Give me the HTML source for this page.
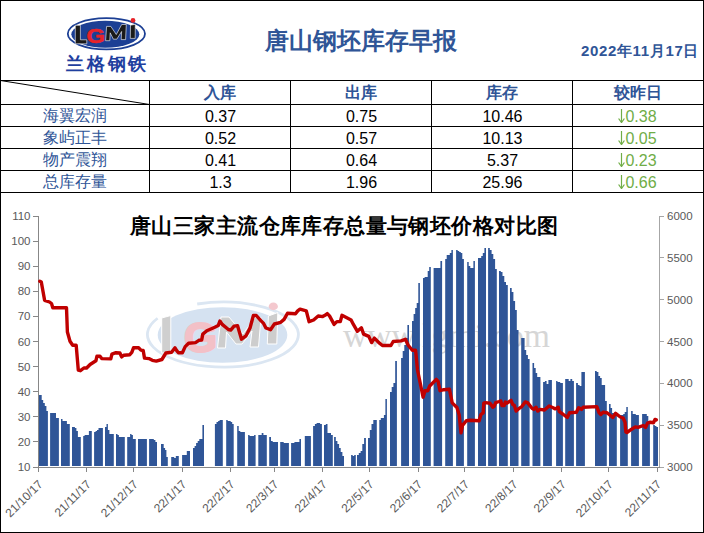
<!DOCTYPE html>
<html><head><meta charset="utf-8">
<style>
html,body{margin:0;padding:0;background:#fff;}
body{width:704px;height:533px;overflow:hidden;position:relative;font-family:"Liberation Sans",sans-serif;}
.t{position:absolute;white-space:nowrap;line-height:1;}
.c{text-align:center;}
.blue{color:#2F5597;}
.hd{font-size:16px;font-weight:bold;color:#2F5597;}
.nm{font-size:16px;color:#2F5597;}
.num{font-size:16px;color:#000;}
.grn{font-size:16px;color:#70AD47;}
.arr{display:inline-block;width:7px;height:14px;vertical-align:-1px;margin-right:0px;}
</style></head><body>
<svg width="704" height="533" style="position:absolute;left:0;top:0">
  <!-- outer border -->
  <rect x="0.5" y="0.5" width="703" height="532" fill="none" stroke="#000" stroke-width="1"/>
  <!-- table lines -->
  <g stroke="#000" stroke-width="1" shape-rendering="crispEdges">
    <line x1="0" y1="80.5" x2="704" y2="80.5"/>
    <line x1="0" y1="104.5" x2="704" y2="104.5"/>
    <line x1="0" y1="126.5" x2="704" y2="126.5"/>
    <line x1="0" y1="148.5" x2="704" y2="148.5"/>
    <line x1="0" y1="170.5" x2="704" y2="170.5"/>
    <line x1="0" y1="192.5" x2="704" y2="192.5"/>
    <line x1="149.5" y1="80" x2="149.5" y2="193"/>
    <line x1="290.5" y1="80" x2="290.5" y2="193"/>
    <line x1="431.5" y1="80" x2="431.5" y2="193"/>
    <line x1="572.5" y1="80" x2="572.5" y2="193"/>
  </g>
  <line x1="0.5" y1="80.5" x2="149.5" y2="104.5" stroke="#000" stroke-width="1"/>
  <!-- logo -->
  <g id="logo">
    <ellipse cx="106.4" cy="33.8" rx="38.6" ry="15.6" fill="none" stroke="#1c3f94" stroke-width="1.8"/>
    <ellipse cx="105.3" cy="34.3" rx="34" ry="13.5" fill="#1c3f94"/>
    <path d="M75.3,25.3 L80.4,25.3 L80.4,39.8 L86.8,39.8 L86.8,43.8 L75.3,43.8 Z" fill="#1a1a1a" stroke="#fff" stroke-width="0.6"/>
    <text x="86.5" y="42.6" font-family="Liberation Sans" font-weight="bold" font-size="20" fill="#e8232a" stroke="#e8232a" stroke-width="0.6" textLength="18.5" lengthAdjust="spacingAndGlyphs">G</text>
    <path d="M105.6,40.7 L106.6,26.4 L110.8,26.4 L116.3,34.5 L121.7,24.5 L126.3,24.5 L125.6,39.6 L121.2,39.6 L121.6,31.5 L116.8,39.2 L113.4,39.2 L110.2,32.8 L109.8,40.7 Z" fill="#1a1a1a" stroke="#fff" stroke-width="0.6"/>
    <path d="M130.5,25.2 L135.3,24.3 L135.2,38.4 L130.3,38.4 Z" fill="#1a1a1a" stroke="#fff" stroke-width="0.6"/>
    <circle cx="133" cy="20.4" r="2.4" fill="#e8232a"/>
  </g>
</svg>
<div class="t" style="left:66px;top:55px;width:84px;font-size:18px;font-weight:bold;color:#1f3f9f;letter-spacing:2.8px;">兰格钢铁</div>
<div class="t" style="left:265px;top:29px;font-size:24px;font-weight:bold;color:#2F5597">唐山钢坯库存早报</div>
<div class="t" style="left:581px;top:43px;font-size:15px;font-weight:bold;color:#2F5597;letter-spacing:0.65px">2022年11月17日</div>

<div class="t c hd" style="left:149px;width:141px;top:85px">入库</div>
<div class="t c hd" style="left:290px;width:141px;top:85px">出库</div>
<div class="t c hd" style="left:431px;width:141px;top:85px">库存</div>
<div class="t c hd" style="left:572px;width:131px;top:85px">较昨日</div>

<div class="t c nm" style="left:0;width:149px;top:108px">海翼宏润</div>
<div class="t c nm" style="left:0;width:149px;top:130px">象屿正丰</div>
<div class="t c nm" style="left:0;width:149px;top:152px">物产震翔</div>
<div class="t c nm" style="left:0;width:149px;top:174px">总库存量</div>

<div class="t c num" style="left:150px;width:141px;top:109px">0.37</div>
<div class="t c num" style="left:150px;width:141px;top:131px">0.52</div>
<div class="t c num" style="left:150px;width:141px;top:153px">0.41</div>
<div class="t c num" style="left:150px;width:141px;top:175px">1.3</div>

<div class="t c num" style="left:291px;width:141px;top:109px">0.75</div>
<div class="t c num" style="left:291px;width:141px;top:131px">0.57</div>
<div class="t c num" style="left:291px;width:141px;top:153px">0.64</div>
<div class="t c num" style="left:291px;width:141px;top:175px">1.96</div>

<div class="t c num" style="left:432px;width:141px;top:109px">10.46</div>
<div class="t c num" style="left:432px;width:141px;top:131px">10.13</div>
<div class="t c num" style="left:432px;width:141px;top:153px">5.37</div>
<div class="t c num" style="left:432px;width:141px;top:175px">25.96</div>

<div class="t c grn" style="left:572px;width:131px;top:109px" ><svg class="arr" viewBox="0 0 7 14"><path d="M3.5,0 L3.5,13" stroke="#70AD47" stroke-width="1.2"/><path d="M0.6,9.5 L3.5,13.6 L6.4,9.5" fill="none" stroke="#70AD47" stroke-width="1.2"/></svg>0.38</div>
<div class="t c grn" style="left:572px;width:131px;top:131px" ><svg class="arr" viewBox="0 0 7 14"><path d="M3.5,0 L3.5,13" stroke="#70AD47" stroke-width="1.2"/><path d="M0.6,9.5 L3.5,13.6 L6.4,9.5" fill="none" stroke="#70AD47" stroke-width="1.2"/></svg>0.05</div>
<div class="t c grn" style="left:572px;width:131px;top:153px" ><svg class="arr" viewBox="0 0 7 14"><path d="M3.5,0 L3.5,13" stroke="#70AD47" stroke-width="1.2"/><path d="M0.6,9.5 L3.5,13.6 L6.4,9.5" fill="none" stroke="#70AD47" stroke-width="1.2"/></svg>0.23</div>
<div class="t c grn" style="left:572px;width:131px;top:175px" ><svg class="arr" viewBox="0 0 7 14"><path d="M3.5,0 L3.5,13" stroke="#70AD47" stroke-width="1.2"/><path d="M0.6,9.5 L3.5,13.6 L6.4,9.5" fill="none" stroke="#70AD47" stroke-width="1.2"/></svg>0.66</div>

<!--CHART-->
<svg width="704" height="533" style="position:absolute;left:0;top:0">
<g id="wm">
<path d="M197.2,304 A75.5,32.5 0 1 1 157.6,318.25" fill="none" stroke="#dbe6f2" stroke-width="2.8"/>
<ellipse cx="222.5" cy="335" rx="64.8" ry="27.8" fill="#d5e2f1"/>
<g stroke="#fff" stroke-width="1" stroke-linejoin="round">
<path d="M161.7,318 L170.8,315.5 L170.8,353 L161.7,353 Z" fill="#cfcfcf"/>
<text x="184" y="351.9" font-family="Liberation Sans" font-weight="bold" font-size="42.5" fill="#f3c0c7" stroke="#f3c0c7" stroke-width="2.2" textLength="33" lengthAdjust="spacingAndGlyphs">G</text>
<path d="M217.5,348 L221,317 L229,317 L243,334 L255,317.5 L261,317.5 L258.5,347 L250,347 L252,331 L242,344 L236,344 L226.5,332 L225.5,348 Z" fill="#cdcdcd"/>
<path d="M268.4,316 L277.8,312.5 L276.8,344 L267.3,344 Z" fill="#cdcdcd"/>
</g>
<ellipse cx="273.3" cy="306.4" rx="4.6" ry="3.8" fill="#f4c8ce"/>
</g>
<text x="343" y="346.5" font-family="Liberation Serif" font-size="34" fill="#d6d6d6" textLength="207" lengthAdjust="spacingAndGlyphs">www.lgmi.com</text>
<path d="M38.6,466.0 L38.6,395.0 L40.1,395.0 L40.1,395.0 L41.7,395.0 L41.7,400.0 L43.2,400.0 L43.2,403.0 L44.8,403.0 L44.8,406.0 L46.4,406.0 L46.4,411.0 L47.9,411.0 L47.9,466.0ZM50.1,466.0 L50.1,413.0 L51.6,413.0 L51.6,413.0 L53.0,413.0 L53.0,413.0 L54.5,413.0 L54.5,413.0 L56.0,413.0 L56.0,418.0 L57.4,418.0 L57.4,418.0 L58.9,418.0 L58.9,466.0ZM61.0,466.0 L61.0,419.0 L62.5,419.0 L62.5,421.0 L63.9,421.0 L63.9,421.0 L65.4,421.0 L65.4,421.0 L66.9,421.0 L66.9,424.0 L68.3,424.0 L68.3,424.0 L69.8,424.0 L69.8,466.0ZM72.0,466.0 L72.0,427.0 L73.5,427.0 L73.5,427.0 L74.9,427.0 L74.9,428.0 L76.4,428.0 L76.4,431.0 L77.9,431.0 L77.9,437.0 L79.3,437.0 L79.3,437.0 L80.8,437.0 L80.8,466.0ZM83.2,466.0 L83.2,436.0 L84.6,436.0 L84.6,435.0 L86.1,435.0 L86.1,435.0 L87.5,435.0 L87.5,435.0 L88.9,435.0 L88.9,431.0 L90.4,431.0 L90.4,431.0 L91.8,431.0 L91.8,466.0ZM94.1,466.0 L94.1,432.0 L95.6,432.0 L95.6,431.0 L97.0,431.0 L97.0,430.0 L98.5,430.0 L98.5,428.0 L100.0,428.0 L100.0,428.0 L101.4,428.0 L101.4,428.0 L102.9,428.0 L102.9,466.0ZM105.0,466.0 L105.0,427.0 L106.5,427.0 L106.5,424.0 L107.9,424.0 L107.9,430.0 L109.4,430.0 L109.4,434.0 L110.9,434.0 L110.9,434.0 L112.3,434.0 L112.3,434.0 L113.8,434.0 L113.8,466.0ZM116.0,466.0 L116.0,434.0 L117.5,434.0 L117.5,435.0 L118.9,435.0 L118.9,437.0 L120.4,437.0 L120.4,437.0 L121.9,437.0 L121.9,437.0 L123.3,437.0 L123.3,437.0 L124.8,437.0 L124.8,466.0ZM127.2,466.0 L127.2,437.0 L128.6,437.0 L128.6,437.0 L130.1,437.0 L130.1,434.0 L131.5,434.0 L131.5,435.0 L132.9,435.0 L132.9,439.0 L134.4,439.0 L134.4,439.0 L135.8,439.0 L135.8,466.0ZM138.0,466.0 L138.0,439.0 L139.5,439.0 L139.5,439.0 L141.0,439.0 L141.0,439.0 L142.4,439.0 L142.4,439.0 L143.9,439.0 L143.9,439.0 L145.4,439.0 L145.4,439.0 L146.9,439.0 L146.9,466.0ZM149.1,466.0 L149.1,439.0 L150.7,439.0 L150.7,439.0 L152.3,439.0 L152.3,439.0 L153.8,439.0 L153.8,440.0 L155.4,440.0 L155.4,442.0 L157.0,442.0 L157.0,466.0ZM161.0,466.0 L161.0,444.0 L162.4,444.0 L162.4,444.0 L163.7,444.0 L163.7,448.0 L165.1,448.0 L165.1,450.0 L166.4,450.0 L166.4,457.0 L167.8,457.0 L167.8,466.0ZM171.2,466.0 L171.2,457.0 L172.7,457.0 L172.7,457.0 L174.2,457.0 L174.2,458.0 L175.8,458.0 L175.8,456.0 L177.3,456.0 L177.3,456.0 L178.8,456.0 L178.8,466.0ZM182.1,466.0 L182.1,455.0 L183.7,455.0 L183.7,455.0 L185.3,455.0 L185.3,455.0 L186.8,455.0 L186.8,451.0 L188.4,451.0 L188.4,451.0 L190.0,451.0 L190.0,466.0ZM193.0,466.0 L193.0,448.0 L194.6,448.0 L194.6,446.0 L196.1,446.0 L196.1,443.0 L197.7,443.0 L197.7,441.0 L199.3,441.0 L199.3,439.0 L200.9,439.0 L200.9,439.0 L202.4,439.0 L202.4,425.0 L204.0,425.0 L204.0,466.0ZM214.9,466.0 L214.9,424.0 L216.5,424.0 L216.5,422.0 L218.1,422.0 L218.1,421.0 L219.6,421.0 L219.6,420.0 L221.2,420.0 L221.2,420.0 L222.8,420.0 L222.8,466.0ZM226.2,466.0 L226.2,420.0 L227.7,420.0 L227.7,421.0 L229.2,421.0 L229.2,421.0 L230.7,421.0 L230.7,422.0 L232.2,422.0 L232.2,424.0 L233.7,424.0 L233.7,466.0ZM237.2,466.0 L237.2,426.0 L238.7,426.0 L238.7,431.0 L240.3,431.0 L240.3,432.0 L241.8,432.0 L241.8,432.0 L243.4,432.0 L243.4,432.0 L244.9,432.0 L244.9,466.0ZM248.1,466.0 L248.1,435.0 L249.6,435.0 L249.6,436.0 L251.1,436.0 L251.1,436.0 L252.6,436.0 L252.6,436.0 L254.1,436.0 L254.1,435.0 L255.6,435.0 L255.6,466.0ZM258.3,466.0 L258.3,435.0 L260.0,435.0 L260.0,435.0 L261.7,435.0 L261.7,433.0 L263.4,433.0 L263.4,435.0 L265.1,435.0 L265.1,435.0 L266.8,435.0 L266.8,466.0ZM269.2,466.0 L269.2,437.0 L271.0,437.0 L271.0,441.0 L272.7,441.0 L272.7,442.0 L274.5,442.0 L274.5,442.0 L276.2,442.0 L276.2,442.0 L278.0,442.0 L278.0,466.0ZM280.2,466.0 L280.2,442.0 L281.9,442.0 L281.9,442.0 L283.7,442.0 L283.7,443.0 L285.4,443.0 L285.4,443.0 L287.2,443.0 L287.2,443.0 L288.9,443.0 L288.9,466.0ZM291.1,466.0 L291.1,443.0 L292.8,443.0 L292.8,443.0 L294.4,443.0 L294.4,442.0 L296.1,442.0 L296.1,442.0 L297.7,442.0 L297.7,442.0 L299.4,442.0 L299.4,439.0 L301.0,439.0 L301.0,466.0ZM304.8,466.0 L304.8,436.0 L306.3,436.0 L306.3,436.0 L307.9,436.0 L307.9,436.0 L309.4,436.0 L309.4,436.0 L310.9,436.0 L310.9,466.0ZM313.1,466.0 L313.1,426.0 L314.9,426.0 L314.9,424.0 L316.6,424.0 L316.6,423.0 L318.4,423.0 L318.4,423.0 L320.1,423.0 L320.1,424.0 L321.9,424.0 L321.9,466.0ZM324.0,466.0 L324.0,425.0 L325.8,425.0 L325.8,424.0 L327.5,424.0 L327.5,433.0 L329.3,433.0 L329.3,433.0 L331.0,433.0 L331.0,435.0 L332.8,435.0 L332.8,466.0ZM334.1,466.0 L334.1,437.0 L335.8,437.0 L335.8,441.0 L337.4,441.0 L337.4,444.0 L339.1,444.0 L339.1,448.0 L340.7,448.0 L340.7,452.0 L342.4,452.0 L342.4,456.0 L344.0,456.0 L344.0,466.0ZM351.1,466.0 L351.1,455.0 L352.7,455.0 L352.7,456.0 L354.2,456.0 L354.2,455.0 L355.8,455.0 L355.8,466.0ZM357.0,466.0 L357.0,455.0 L358.8,455.0 L358.8,453.0 L360.6,453.0 L360.6,451.0 L362.3,451.0 L362.3,444.0 L364.1,444.0 L364.1,438.0 L365.9,438.0 L365.9,466.0ZM368.0,466.0 L368.0,438.0 L369.8,438.0 L369.8,430.0 L371.5,430.0 L371.5,424.0 L373.3,424.0 L373.3,420.0 L375.0,420.0 L375.0,420.0 L376.8,420.0 L376.8,466.0ZM379.3,466.0 L379.3,420.0 L380.8,420.0 L380.8,418.0 L382.3,418.0 L382.3,418.0 L383.9,418.0 L383.9,415.0 L385.4,415.0 L385.4,399.0 L386.9,399.0 L386.9,466.0ZM390.0,466.0 L390.0,392.0 L391.7,392.0 L391.7,387.0 L393.4,387.0 L393.4,383.0 L395.2,383.0 L395.2,361.0 L396.9,361.0 L396.9,466.0ZM401.1,466.0 L401.1,358.0 L402.7,358.0 L402.7,351.0 L404.3,351.0 L404.3,345.0 L405.8,345.0 L405.8,338.0 L407.4,338.0 L407.4,325.0 L409.0,325.0 L409.0,466.0ZM412.0,466.0 L412.0,321.0 L413.6,321.0 L413.6,314.0 L415.2,314.0 L415.2,308.0 L416.7,308.0 L416.7,303.0 L418.3,303.0 L418.3,283.0 L419.9,283.0 L419.9,466.0ZM423.0,466.0 L423.0,278.0 L424.6,278.0 L424.6,277.0 L426.1,277.0 L426.1,277.0 L427.7,277.0 L427.7,271.0 L429.2,271.0 L429.2,267.0 L430.8,267.0 L430.8,466.0ZM433.6,466.0 L433.6,268.0 L435.3,268.0 L435.3,268.0 L437.0,268.0 L437.0,268.0 L438.7,268.0 L438.7,268.0 L440.4,268.0 L440.4,261.0 L442.1,261.0 L442.1,466.0ZM445.2,466.0 L445.2,259.0 L446.7,259.0 L446.7,255.0 L448.3,255.0 L448.3,255.0 L449.8,255.0 L449.8,253.0 L451.4,253.0 L451.4,250.0 L452.9,250.0 L452.9,466.0ZM456.1,466.0 L456.1,250.0 L457.7,250.0 L457.7,251.0 L459.2,251.0 L459.2,252.0 L460.8,252.0 L460.8,253.0 L462.3,253.0 L462.3,259.0 L463.9,259.0 L463.9,466.0ZM467.2,466.0 L467.2,262.0 L468.7,262.0 L468.7,266.0 L470.3,266.0 L470.3,268.0 L471.8,268.0 L471.8,268.0 L473.4,268.0 L473.4,261.0 L474.9,261.0 L474.9,466.0ZM478.0,466.0 L478.0,258.0 L479.6,258.0 L479.6,258.0 L481.2,258.0 L481.2,256.0 L482.8,256.0 L482.8,253.0 L484.4,253.0 L484.4,248.0 L486.0,248.0 L486.0,466.0ZM488.1,466.0 L488.1,248.0 L489.8,248.0 L489.8,250.0 L491.6,250.0 L491.6,254.0 L493.3,254.0 L493.3,259.0 L495.1,259.0 L495.1,269.0 L496.8,269.0 L496.8,466.0ZM499.0,466.0 L499.0,271.0 L500.8,271.0 L500.8,272.0 L502.5,272.0 L502.5,276.0 L504.3,276.0 L504.3,282.0 L506.0,282.0 L506.0,285.0 L507.8,285.0 L507.8,466.0ZM510.0,466.0 L510.0,288.0 L511.7,288.0 L511.7,292.0 L513.4,292.0 L513.4,301.0 L515.1,301.0 L515.1,310.0 L516.8,310.0 L516.8,330.0 L518.5,330.0 L518.5,466.0ZM521.2,466.0 L521.2,338.0 L522.9,338.0 L522.9,338.0 L524.6,338.0 L524.6,350.0 L526.2,350.0 L526.2,355.0 L527.9,355.0 L527.9,359.0 L529.6,359.0 L529.6,466.0ZM532.5,466.0 L532.5,363.0 L534.1,363.0 L534.1,368.0 L535.7,368.0 L535.7,373.0 L537.2,373.0 L537.2,377.0 L538.8,377.0 L538.8,377.0 L540.4,377.0 L540.4,466.0ZM543.1,466.0 L543.1,382.0 L544.9,382.0 L544.9,381.0 L546.6,381.0 L546.6,384.0 L548.4,384.0 L548.4,380.0 L550.1,380.0 L550.1,380.0 L551.9,380.0 L551.9,466.0ZM556.1,466.0 L556.1,381.0 L557.5,381.0 L557.5,382.0 L558.8,382.0 L558.8,382.0 L560.2,382.0 L560.2,383.0 L561.5,383.0 L561.5,383.0 L562.9,383.0 L562.9,466.0ZM565.2,466.0 L565.2,379.0 L566.9,379.0 L566.9,379.0 L568.7,379.0 L568.7,381.0 L570.4,381.0 L570.4,379.0 L572.2,379.0 L572.2,381.0 L573.9,381.0 L573.9,466.0ZM576.1,466.0 L576.1,383.0 L577.9,383.0 L577.9,385.0 L579.6,385.0 L579.6,386.0 L581.4,386.0 L581.4,372.0 L583.1,372.0 L583.1,372.0 L584.9,372.0 L584.9,466.0ZM595.0,466.0 L595.0,371.0 L596.7,371.0 L596.7,372.0 L598.4,372.0 L598.4,376.0 L600.1,376.0 L600.1,378.0 L601.7,378.0 L601.7,385.0 L603.4,385.0 L603.4,385.0 L605.1,385.0 L605.1,401.0 L606.8,401.0 L606.8,466.0ZM609.0,466.0 L609.0,404.0 L610.6,404.0 L610.6,408.0 L612.1,408.0 L612.1,413.0 L613.7,413.0 L613.7,413.0 L615.2,413.0 L615.2,413.0 L616.8,413.0 L616.8,466.0ZM620.1,466.0 L620.1,415.0 L621.6,415.0 L621.6,415.0 L623.2,415.0 L623.2,414.0 L624.7,414.0 L624.7,412.0 L626.3,412.0 L626.3,407.0 L627.8,407.0 L627.8,466.0ZM631.1,466.0 L631.1,411.0 L632.7,411.0 L632.7,414.0 L634.2,414.0 L634.2,414.0 L635.8,414.0 L635.8,415.0 L637.3,415.0 L637.3,415.0 L638.9,415.0 L638.9,466.0ZM642.1,466.0 L642.1,414.0 L643.7,414.0 L643.7,414.0 L645.2,414.0 L645.2,414.0 L646.8,414.0 L646.8,416.0 L648.3,416.0 L648.3,421.0 L649.9,421.0 L649.9,466.0ZM653.2,466.0 L653.2,425.0 L654.8,425.0 L654.8,426.0 L656.4,426.0 L656.4,427.0 L658.0,427.0 L658.0,466.0Z" fill="#2F5597"/>
<g stroke="#878787" stroke-width="1" shape-rendering="crispEdges" fill="none">
<line x1="38.5" y1="216" x2="38.5" y2="467"/>
<line x1="659.5" y1="216" x2="659.5" y2="467" stroke="#a6a6a6"/>
<line x1="38" y1="467.5" x2="660" y2="467.5"/>
<line x1="33" y1="216.5" x2="38" y2="216.5"/>
<line x1="33" y1="241.5" x2="38" y2="241.5"/>
<line x1="33" y1="266.5" x2="38" y2="266.5"/>
<line x1="33" y1="291.5" x2="38" y2="291.5"/>
<line x1="33" y1="316.5" x2="38" y2="316.5"/>
<line x1="33" y1="341.5" x2="38" y2="341.5"/>
<line x1="33" y1="366.5" x2="38" y2="366.5"/>
<line x1="33" y1="391.5" x2="38" y2="391.5"/>
<line x1="33" y1="416.5" x2="38" y2="416.5"/>
<line x1="33" y1="441.5" x2="38" y2="441.5"/>
<line x1="33" y1="467.5" x2="38" y2="467.5"/>
<line x1="660" y1="216.5" x2="664" y2="216.5" stroke="#a6a6a6"/>
<line x1="660" y1="257.5" x2="664" y2="257.5" stroke="#a6a6a6"/>
<line x1="660" y1="299.5" x2="664" y2="299.5" stroke="#a6a6a6"/>
<line x1="660" y1="341.5" x2="664" y2="341.5" stroke="#a6a6a6"/>
<line x1="660" y1="383.5" x2="664" y2="383.5" stroke="#a6a6a6"/>
<line x1="660" y1="425.5" x2="664" y2="425.5" stroke="#a6a6a6"/>
<line x1="660" y1="467.5" x2="664" y2="467.5" stroke="#a6a6a6"/>
<line x1="38.5" y1="467" x2="38.5" y2="472"/>
<line x1="86.5" y1="467" x2="86.5" y2="472"/>
<line x1="133.5" y1="467" x2="133.5" y2="472"/>
<line x1="182.5" y1="467" x2="182.5" y2="472"/>
<line x1="230.5" y1="467" x2="230.5" y2="472"/>
<line x1="274.5" y1="467" x2="274.5" y2="472"/>
<line x1="322.5" y1="467" x2="322.5" y2="472"/>
<line x1="369.5" y1="467" x2="369.5" y2="472"/>
<line x1="418.5" y1="467" x2="418.5" y2="472"/>
<line x1="464.5" y1="467" x2="464.5" y2="472"/>
<line x1="513.5" y1="467" x2="513.5" y2="472"/>
<line x1="561.5" y1="467" x2="561.5" y2="472"/>
<line x1="608.5" y1="467" x2="608.5" y2="472"/>
<line x1="657.5" y1="467" x2="657.5" y2="472"/>
</g>
<path d="M39.8,281.2 L41.3,282.0 L44.6,300.3 L49.5,302.0 L51.5,303.5 L52.8,307.8 L66.5,307.8 L67.4,332.0 L70.0,341.2 L72.7,345.3 L76.2,345.3 L78.3,370.1 L80.4,370.7 L83.9,368.0 L86.6,368.0 L90.1,364.5 L95.9,360.8 L96.9,356.3 L100.0,356.3 L101.7,358.6 L110.8,358.9 L111.9,354.1 L115.9,352.7 L119.9,353.0 L121.6,356.9 L123.9,355.2 L129.8,354.7 L131.8,352.4 L133.5,347.8 L138.6,347.8 L140.9,350.1 L143.2,350.5 L144.5,358.1 L148.9,358.6 L152.3,360.3 L156.3,361.1 L161.9,359.5 L165.9,353.0 L171.6,352.2 L175.0,347.8 L176.7,350.6 L178.4,352.8 L182.4,352.8 L185.2,346.6 L188.6,343.2 L195.5,342.6 L198.9,340.3 L201.7,340.0 L202.8,334.1 L206.8,330.7 L214.8,327.3 L218.2,325.6 L219.9,321.0 L222.2,324.4 L228.4,329.5 L230.7,330.1 L234.1,326.1 L237.5,325.6 L241.5,339.2 L246.0,335.8 L250.0,328.0 L253.4,315.5 L256.3,315.5 L260.8,320.6 L263.6,323.4 L265.9,328.0 L270.5,329.7 L274.4,324.0 L280.7,322.3 L284.1,319.4 L287.5,313.2 L295.5,313.8 L297.7,310.9 L300.0,309.2 L306.3,310.9 L309.1,321.7 L313.6,320.0 L318.2,316.0 L322.7,316.6 L325.0,315.3 L327.3,313.6 L329.5,315.9 L334.1,324.4 L336.9,321.6 L340.3,321.6 L342.0,315.3 L351.1,319.9 L353.4,324.4 L357.4,331.3 L361.4,327.8 L363.6,334.1 L368.8,336.4 L371.6,342.6 L374.4,338.1 L379.5,343.2 L382.4,345.5 L390.9,345.5 L393.2,341.5 L401.1,340.9 L405.3,339.3 L408.4,345.5 L412.3,350.3 L415.6,350.3 L417.5,370.0 L423.1,397.2 L425.0,390.7 L427.8,390.7 L429.7,386.0 L436.3,379.4 L438.1,381.3 L440.0,390.7 L443.8,389.7 L449.4,389.2 L452.2,402.9 L456.9,407.5 L459.2,415.0 L461.0,432.9 L462.5,425.4 L466.3,420.7 L470.0,420.3 L479.2,420.8 L480.9,414.5 L483.2,412.8 L483.8,403.2 L485.5,402.6 L490.0,403.2 L492.8,407.2 L494.0,406.6 L495.7,402.6 L499.1,401.5 L500.8,400.9 L501.9,405.5 L504.2,405.5 L505.3,402.0 L507.0,403.2 L511.0,400.3 L512.7,404.3 L514.4,405.5 L516.1,411.1 L518.4,408.9 L521.8,406.6 L525.2,402.0 L527.5,402.6 L532.0,408.3 L533.8,409.4 L536.0,407.2 L537.7,411.1 L540.0,409.4 L544.5,410.0 L549.1,406.0 L553.1,407.7 L555.3,408.9 L558.2,407.2 L559.3,411.7 L562.7,414.0 L567.3,417.4 L569.5,412.8 L576.4,412.3 L578.6,407.7 L581.5,409.4 L583.2,407.2 L596.8,406.6 L599.1,412.8 L600.8,414.5 L603.1,412.3 L607.0,412.8 L612.8,417.5 L615.6,413.3 L620.3,417.0 L623.1,418.0 L625.0,422.2 L625.9,432.0 L626.9,432.5 L631.6,429.2 L635.3,426.9 L638.1,427.4 L643.3,425.5 L645.6,427.4 L647.5,423.1 L650.3,422.2 L653.6,422.7 L655.0,419.4 L656.3,419.9" fill="none" stroke="#C00000" stroke-width="3.4" stroke-linejoin="round" stroke-linecap="round"/>
<g font-family="Liberation Sans" font-size="11.5" fill="#595959">
<text x="30.5" y="220.0" text-anchor="end">110</text>
<text x="30.5" y="245.1" text-anchor="end">100</text>
<text x="30.5" y="270.2" text-anchor="end">90</text>
<text x="30.5" y="295.3" text-anchor="end">80</text>
<text x="30.5" y="320.4" text-anchor="end">70</text>
<text x="30.5" y="345.5" text-anchor="end">60</text>
<text x="30.5" y="370.6" text-anchor="end">50</text>
<text x="30.5" y="395.7" text-anchor="end">40</text>
<text x="30.5" y="420.8" text-anchor="end">30</text>
<text x="30.5" y="445.9" text-anchor="end">20</text>
<text x="30.5" y="471.0" text-anchor="end">10</text>
<text x="667" y="220.0" >6000</text>
<text x="667" y="261.8" >5500</text>
<text x="667" y="303.7" >5000</text>
<text x="667" y="345.5" >4500</text>
<text x="667" y="387.3" >4000</text>
<text x="667" y="429.2" >3500</text>
<text x="667" y="471.0" >3000</text>
<text x="43.4" y="485" text-anchor="end" font-size="12" transform="rotate(-45 43.4 485)">21/10/17</text>
<text x="91.8" y="485" text-anchor="end" font-size="12" transform="rotate(-45 91.8 485)">21/11/17</text>
<text x="138.7" y="485" text-anchor="end" font-size="12" transform="rotate(-45 138.7 485)">21/12/17</text>
<text x="187.2" y="485" text-anchor="end" font-size="12" transform="rotate(-45 187.2 485)">22/1/17</text>
<text x="235.6" y="485" text-anchor="end" font-size="12" transform="rotate(-45 235.6 485)">22/2/17</text>
<text x="279.3" y="485" text-anchor="end" font-size="12" transform="rotate(-45 279.3 485)">22/3/17</text>
<text x="327.8" y="485" text-anchor="end" font-size="12" transform="rotate(-45 327.8 485)">22/4/17</text>
<text x="374.6" y="485" text-anchor="end" font-size="12" transform="rotate(-45 374.6 485)">22/5/17</text>
<text x="423.1" y="485" text-anchor="end" font-size="12" transform="rotate(-45 423.1 485)">22/6/17</text>
<text x="470.0" y="485" text-anchor="end" font-size="12" transform="rotate(-45 470.0 485)">22/7/17</text>
<text x="518.4" y="485" text-anchor="end" font-size="12" transform="rotate(-45 518.4 485)">22/8/17</text>
<text x="566.8" y="485" text-anchor="end" font-size="12" transform="rotate(-45 566.8 485)">22/9/17</text>
<text x="613.7" y="485" text-anchor="end" font-size="12" transform="rotate(-45 613.7 485)">22/10/17</text>
<text x="662.1" y="485" text-anchor="end" font-size="12" transform="rotate(-45 662.1 485)">22/11/17</text>
</g>
<text x="130" y="233" font-family="Liberation Serif" font-weight="bold" font-size="21" fill="#000" textLength="428" lengthAdjust="spacing">唐山三家主流仓库库存总量与钢坯价格对比图</text>
</svg>
<!--/CHART-->
</body></html>
